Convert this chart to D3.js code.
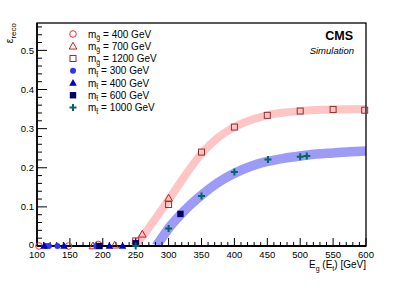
<!DOCTYPE html>
<html><head><meta charset="utf-8">
<script src="https://cdn.jsdelivr.net/npm/d3@7"></script>
<style>body{margin:0;background:#fff}svg{display:block;font-family:"Liberation Sans",Arial,sans-serif}</style>
</head><body><svg id="c" width="399" height="291"></svg>
<script>
// ---- data ----
const mg400 = [[103,0],[148,0],[193,0.004]];
const mg700 = [[185,0],[218,0.002],[260,0.03],[300,0.122]];
const mg1200 = [[250,0.013],[300,0.106],[350,0.240],[400,0.304],[450,0.334],[500,0.345],[550,0.349],[598,0.347]];
const mt300 = [[113,0],[118,0],[131,0],[190,0]];
const mt400 = [[111,0],[141,0],[210,0],[230,0]];
const mt600 = [[195,0],[250,0.007],[318,0.082]];
const mt1000 = [[250,0],[300,0.045],[350,0.128],[400,0.189],[451,0.221],[500,0.228],[510,0.230]];
const bandRed = [[246,0],[250,0.005],[275,0.058],[300,0.118],[325,0.180],[350,0.236],[375,0.277],[400,0.304],[425,0.322],[450,0.334],[475,0.341],[500,0.345],[550,0.349],[600,0.350]];
const bandBlue = [[281,0],[290,0.021],[300,0.045],[325,0.092],[350,0.130],[375,0.162],[400,0.186],[425,0.204],[450,0.216],[475,0.224],[500,0.230],[525,0.235],[550,0.238],[575,0.241],[600,0.243]];
const xTicks = [100,150,200,250,300,350,400,450,500,550,600];
const yTicks = [0,0.1,0.2,0.3,0.4,0.5];
const legendLabels = [
  {p:"m",s:"g̃",t:" = 400 GeV"},{p:"m",s:"g̃",t:" = 700 GeV"},{p:"m",s:"g̃",t:" = 1200 GeV"},
  {p:"m",s:"t̃",t:" = 300 GeV"},{p:"m",s:"t̃",t:" = 400 GeV"},{p:"m",s:"t̃",t:" = 600 GeV"},{p:"m",s:"t̃",t:" = 1000 GeV"}];

// ---- layout ----
const L=37,R=366,T=23,B=246;
const svg=d3.select("#c");
const x=d3.scaleLinear().domain([100,600]).range([L,R]);
const y=d3.scaleLinear().domain([0,0.57]).range([B,T]);

svg.append("clipPath").attr("id","pc").append("rect").attr("x",L).attr("y",T).attr("width",R-L).attr("height",B-T);
const g=svg.append("g").attr("clip-path","url(#pc)");
const line=d3.line().x(d=>x(d[0])).y(d=>y(d[1])).curve(d3.curveMonotoneX);
g.append("path").attr("d",line(bandRed)).attr("fill","none").attr("stroke","#ffc4c4").attr("stroke-width",8);
g.append("path").attr("d",line(bandBlue)).attr("fill","none").attr("stroke","#9c9cf8").attr("stroke-width",9.5);

// frame
svg.append("rect").attr("x",L).attr("y",T).attr("width",R-L).attr("height",B-T).attr("fill","none").attr("stroke","#000").attr("stroke-width",1.3);
const xt=svg.append("g");
d3.range(100,601,10).forEach(v=>{const maj=v%50===0;
  xt.append("line").attr("x1",x(v)).attr("x2",x(v)).attr("y1",B).attr("y2",B-(maj?8:4)).attr("stroke","#000").attr("stroke-width",1);});
xTicks.forEach(v=>xt.append("text").attr("x",x(v)).attr("y",B+12).attr("text-anchor","middle").attr("font-size",9.5).text(v));
d3.range(0,0.5601,0.02).forEach(v=>{const maj=Math.abs(v*10-Math.round(v*10))<1e-6;
  xt.append("line").attr("x1",L).attr("x2",L+(maj?10:5)).attr("y1",y(v)).attr("y2",y(v)).attr("stroke","#000").attr("stroke-width",1);});
yTicks.forEach(v=>xt.append("text").attr("x",L-3).attr("y",y(v)+(v===0?2:3.5)).attr("text-anchor","end").attr("font-size",9.5).text(v===0?"0":v.toFixed(1)));
svg.append("line").attr("x1",L).attr("x2",R).attr("y1",B).attr("y2",B).attr("stroke","#000").attr("stroke-width",2);
svg.append("line").attr("x1",L).attr("x2",L).attr("y1",T).attr("y2",B).attr("stroke","#000").attr("stroke-width",1.6);

// axis titles
const xtitle=svg.append("text").attr("x",R).attr("y",268).attr("text-anchor","end").attr("font-size",10);
xtitle.append("tspan").text("E");
xtitle.append("tspan").attr("font-size",7).attr("dy",2.5).text("g");
xtitle.append("tspan").attr("dy",-2.5).text(" (E");
xtitle.append("tspan").attr("font-size",7).attr("dy",2.5).text("t");
xtitle.append("tspan").attr("dy",-2.5).text(") [GeV]");
const ytitle=svg.append("text").attr("transform","translate(13,23) rotate(-90)").attr("text-anchor","end").attr("font-size",10.5);
ytitle.append("tspan").text("ε");
ytitle.append("tspan").attr("font-size",8).attr("dy",2.5).text("reco");

// markers
function marker(sel,type,col,px,py){
  if(type==="oc") sel.append("circle").attr("cx",px).attr("cy",py).attr("r",3.3).attr("fill","none").attr("stroke",col).attr("stroke-width",1);
  if(type==="fc") sel.append("circle").attr("cx",px).attr("cy",py).attr("r",3).attr("fill",col);
  if(type==="ot") sel.append("path").attr("d",`M${px},${py-4}L${px+3.8},${py+2.8}L${px-3.8},${py+2.8}Z`).attr("fill","none").attr("stroke",col).attr("stroke-width",1);
  if(type==="ft") sel.append("path").attr("d",`M${px},${py-4}L${px+3.8},${py+2.8}L${px-3.8},${py+2.8}Z`).attr("fill",col);
  if(type==="os") sel.append("rect").attr("x",px-3).attr("y",py-3).attr("width",6).attr("height",6).attr("fill","none").attr("stroke",col).attr("stroke-width",1);
  if(type==="fs") sel.append("rect").attr("x",px-3.2).attr("y",py-3.2).attr("width",6.4).attr("height",6.4).attr("fill",col);
  if(type==="cr") {sel.append("path").attr("d",`M${px-3.5},${py}H${px+3.5}M${px},${py-3.5}V${py+3.5}`).attr("stroke",col).attr("stroke-width",2);}
}
const series=[
  {d:mg400,t:"oc",c:"#ff2a2a"},{d:mg700,t:"ot",c:"#c42020"},{d:mg1200,t:"os",c:"#9b2a2a"},
  {d:mt300,t:"fc",c:"#3030ff"},{d:mt400,t:"ft",c:"#0000cc"},{d:mt600,t:"fs",c:"#000066"},{d:mt1000,t:"cr",c:"#006666"}];
const mk=svg.append("g");
series.forEach(s=>s.d.forEach(p=>marker(mk,s.t,s.c,x(p[0]),y(p[1]))));

// legend
series.forEach((s,i)=>{const ly=34+i*12.25;
  marker(svg,s.t,s.c,73,ly);
  const t=svg.append("text").attr("x",88).attr("y",ly+3.5).attr("font-size",10);
  t.append("tspan").text(legendLabels[i].p);
  t.append("tspan").attr("font-size",7).attr("dy",2.5).text(legendLabels[i].s);
  t.append("tspan").attr("dy",-2.5).text(legendLabels[i].t);
});

svg.append("text").attr("x",353).attr("y",39.5).attr("text-anchor","end").attr("font-size",12.5).attr("font-weight","bold").text("CMS");
svg.append("text").attr("x",354).attr("y",53.5).attr("text-anchor","end").attr("font-size",9.5).attr("font-style","italic").text("Simulation");
</script></body></html>
